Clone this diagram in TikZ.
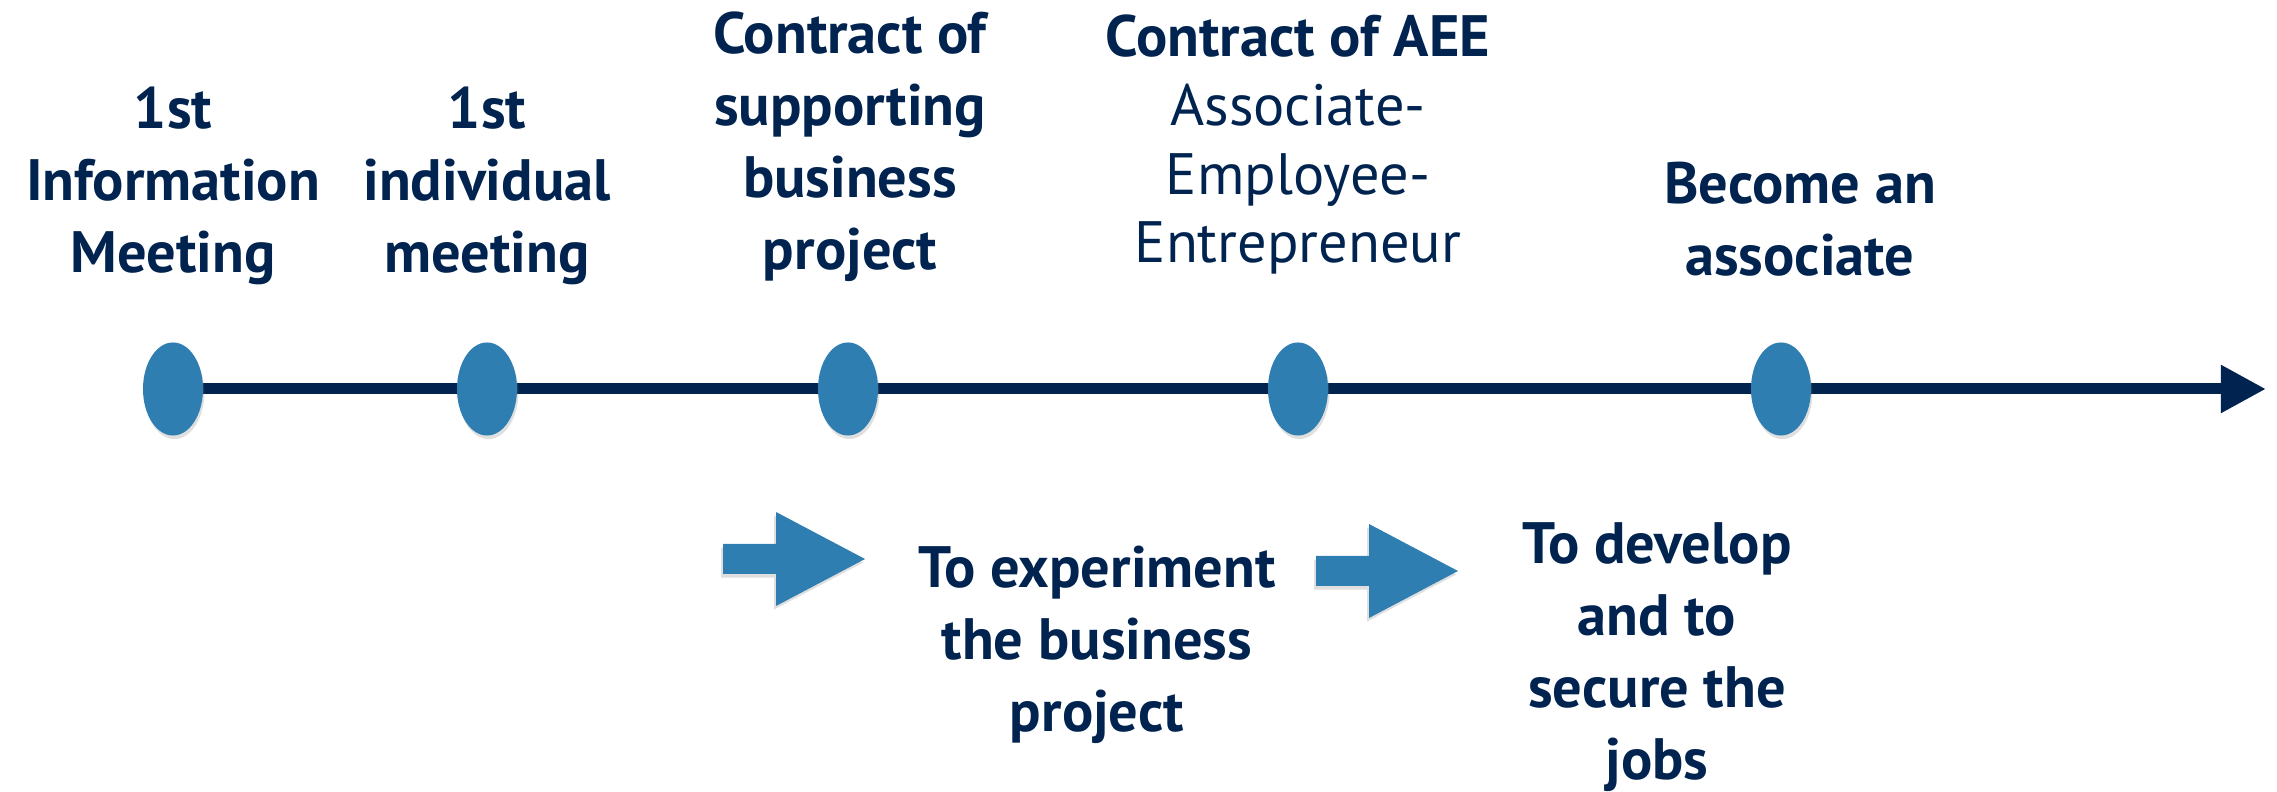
\documentclass[tikz,border=0pt]{standalone}
\usepackage{fontspec}
\setmainfont{PT Sans}
\usepackage{xcolor}
\usepackage{tikz}
\usetikzlibrary{positioning, shapes.geometric, arrows.meta, backgrounds, shadows}
\definecolor{navy}{HTML}{00234F}
\definecolor{stepblue}{HTML}{2F7EB1}

\begin{document}
\begin{tikzpicture}[x=0.01cm, y=-0.01cm,
	milestone/.style={ellipse, fill=stepblue, minimum width=0.6cm, minimum height=0.93cm, inner sep=0pt, drop shadow={shadow xshift=0.4pt, shadow yshift=-1pt, opacity=0.25}},
	caption/.style={text=navy, align=center, inner sep=0pt, anchor=base, font=\bfseries\fontsize{16.6}{20.5}\selectfont},
	blockarrow/.style={fill=stepblue, drop shadow={shadow xshift=-0.5pt, shadow yshift=-1pt, opacity=0.25}}]
	\useasboundingbox (0,0) rectangle (2277,792);

	% milestones on the time line
	\node[milestone] (m1) at (173,389) {};
	\node[milestone] (m2) at (487,389) {};
	\node[milestone] (m3) at (848,389) {};
	\node[milestone] (m4) at (1298,389) {};
	\node[milestone] (m5) at (1781,389) {};
	\coordinate (tend) at (2266,389);

	\begin{scope}[on background layer]
		\draw[navy, line width=0.11cm, -{Triangle[length=0.45cm, width=0.45cm]}] (m1.center) -- (tend);
	\end{scope}

	% captions (placed at the baseline of their last line)
	\node[caption] (t1) at (173,273) {1st\\Information\\Meeting};
	\node[caption] (t2) at (487,273) {1st\\individual\\meeting};
	\node[caption] (t3) at (850,270) {Contract of\\supporting\\business\\project};
	\node[caption, font=\fontsize{16.6}{19.6}\selectfont] (t4) at (1298,263) {\textbf{Contract of AEE}\\Associate-\\Employee-\\Entrepreneur};
	\node[caption] (t5) at (1800,276) {Become an\\associate};

	% steps below
	\fill[blockarrow] (723,544) -- (776,544) -- (776,512) -- (865,559) -- (776,606) -- (776,574) -- (723,574) -- cycle;
	\node[caption] (s1) at (1097,732) {To experiment\\the business\\project};
	\fill[blockarrow] (1316,556) -- (1369,556) -- (1369,524) -- (1458,571) -- (1369,618) -- (1369,586) -- (1316,586) -- cycle;
	\node[caption] (s2) at (1657,780) {To develop\\and to\\secure the\\jobs};

\end{tikzpicture}
\end{document}
